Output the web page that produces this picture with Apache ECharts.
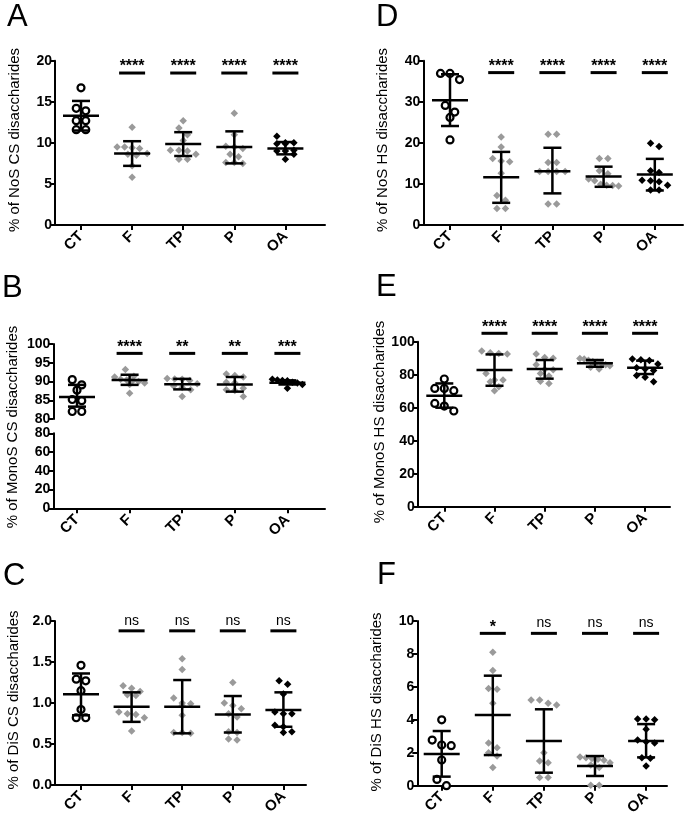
<!DOCTYPE html>
<html><head><meta charset="utf-8">
<script src="https://cdn.jsdelivr.net/npm/echarts@6/dist/echarts.min.js"></script>
<style>html,body{margin:0;padding:0;background:#fff}#c{width:685px;height:816px}</style>
</head><body><div id="c"></div><script>
const categories = ['CT', 'F', 'TP', 'P', 'OA'];

// ---- Panel A: % of NoS CS disaccharides
const A_CT = [16.7, 14.2, 13.9, 12.7, 12.7, 11.6, 11.6];
const A_F  = [11.9, 9.5, 9.4, 9.3, 9.5, 8.7, 8.6, 8.5, 7.2, 5.8];
const A_TP = [12.7, 11.8, 11.0, 10.3, 9.1, 9.1, 9.0, 8.6, 8.0, 8.0];
const A_P  = [13.6, 11.0, 9.6, 9.5, 9.3, 8.6, 8.3, 7.6, 7.6, 7.5];
const A_OA = [10.8, 10.0, 9.9, 9.9, 10.0, 9.1, 9.0, 9.0, 8.6, 8.0];
const A_mean = [13.3, 8.7, 9.86, 9.5, 9.3];
const A_hi   = [15.1, 10.2, 11.3, 11.4, 10.1];
const A_lo   = [11.5, 7.2, 8.4, 7.5, 8.6];
const A_sig  = ['****', '****', '****', '****'];
const A_sigY = 18.5;
const A_ticks = [0, 5, 10, 15, 20];

// ---- Panel D: % of NoS HS disaccharides
const D_CT = [36.9, 36.9, 35.4, 29.1, 27.5, 26.2, 20.7];
const D_F  = [21.4, 19.0, 16.2, 15.6, 15.4, 12.6, 7.2, 6.0, 4.0, 4.0];
const D_TP = [22.1, 22.1, 15.2, 15.2, 13.0, 13.0, 13.0, 13.0, 5.1, 5.1];
const D_P  = [16.2, 16.2, 13.2, 12.5, 11.2, 10.8, 9.9, 9.7, 9.6, 9.5];
const D_OA = [19.9, 19.1, 13.2, 12.8, 10.9, 10.8, 10.5, 9.7, 8.5, 8.5];
const D_mean = [30.4, 11.6, 13.1, 11.8, 12.3];
const D_hi   = [36.7, 17.8, 18.8, 14.2, 16.1];
const D_lo   = [24.1, 5.4, 7.7, 9.3, 8.4];
const D_sig  = ['****', '****', '****', '****'];
const D_sigY = 37.1;
const D_ticks = [0, 10, 20, 30, 40];

// ---- Panel B: % of MonoS CS disaccharides (broken axis)
const B_CT = [90.5, 89.1, 87.7, 85.2, 84.9, 82.0, 82.0];
const B_F  = [93.2, 91.4, 91.2, 90.6, 90.4, 90.2, 90.0, 89.6, 89.2, 86.9];
const B_TP = [90.8, 90.7, 90.6, 90.3, 89.4, 88.8, 88.4, 87.8, 86.0];
const B_P  = [92.0, 91.6, 91.2, 89.8, 89.7, 88.2, 87.8, 87.6, 86.0];
const B_OA = [90.6, 90.4, 90.3, 90.2, 89.8, 89.6, 89.2, 88.2];
const B_mean = [85.9, 90.4, 89.3, 89.2, 89.7];
const B_hi   = [89.1, 91.8, 90.7, 91.2, 90.3];
const B_lo   = [83.3, 89.1, 87.9, 87.3, 89.2];
const B_sig  = ['****', '**', '**', '***'];
const B_sigY = 97.5;
const B_ticksUpper = [80, 85, 90, 95, 100];
const B_ticksLower = [0, 20, 40, 60, 80];

// ---- Panel E: % of MonoS HS disaccharides
const E_CT = [77.4, 71.7, 71.7, 70.3, 62.6, 61.0, 58.0];
const E_F  = [94.3, 93.3, 92.9, 92.5, 80.8, 76.8, 76.8, 75.8, 72.7, 70.3];
const E_TP = [92.5, 90.5, 89.9, 86.0, 83.2, 83.0, 80.8, 79.2, 76.0, 74.7];
const E_P  = [89.8, 89.5, 88.8, 88.0, 87.5, 86.9, 86.0, 85.5, 84.5, 83.5];
const E_OA = [89.5, 89.0, 88.6, 86.5, 84.2, 83.5, 82.5, 79.5, 78.4, 75.8];
const E_mean = [67.3, 82.8, 83.4, 86.9, 84.2];
const E_hi   = [74.7, 92.3, 88.9, 88.9, 88.5];
const E_lo   = [60.0, 73.3, 77.6, 84.8, 80.4];
const E_sig  = ['****', '****', '****', '****'];
const E_sigY = 105.1;
const E_ticks = [0, 20, 40, 60, 80, 100];

// ---- Panel C: % of DiS CS disaccharides
const C_CT = [1.46, 1.29, 1.27, 1.15, 0.92, 0.82, 0.82];
const C_F  = [1.21, 1.18, 1.14, 1.10, 1.09, 0.89, 0.87, 0.86, 0.82, 0.66];
const C_TP = [1.54, 1.41, 1.06, 1.0, 0.99, 0.97, 0.85, 0.64, 0.64, 0.63];
const C_P  = [1.25, 1.0, 0.97, 0.93, 0.87, 0.83, 0.65, 0.64, 0.56, 0.55];
const C_OA = [1.27, 1.23, 1.11, 0.89, 0.87, 0.87, 0.73, 0.71, 0.65, 0.64];
const C_mean = [1.106, 0.955, 0.955, 0.86, 0.915];
const C_hi   = [1.36, 1.13, 1.28, 1.085, 1.13];
const C_lo   = [0.85, 0.77, 0.63, 0.64, 0.71];
const C_sig  = ['ns', 'ns', 'ns', 'ns'];
const C_sigY = 1.88;
const C_ticks = [0, 0.5, 1.0, 1.5, 2.0];

// ---- Panel F: % of DiS HS disaccharides
const F_CT = [4.0, 2.77, 2.47, 2.43, 1.56, 0.38, 0.0];
const F_F  = [8.1, 7.0, 5.9, 5.85, 5.0, 2.6, 2.3, 2.0, 1.8, 1.1];
const F_TP = [5.2, 5.2, 5.0, 4.9, 2.0, 1.5, 1.4, 0.5, 0.5];
const F_P  = [1.75, 1.7, 1.65, 1.6, 1.55, 1.4, 1.25, 1.1, 0.02, 0.02];
const F_OA = [4.05, 4.05, 4.0, 3.42, 2.77, 2.67, 2.6, 1.7, 1.66, 1.19];
const F_mean = [1.92, 4.29, 2.71, 1.19, 2.71];
const F_hi   = [3.32, 6.68, 4.64, 1.8, 3.74];
const F_lo   = [0.55, 1.86, 0.79, 0.59, 1.72];
const F_sig  = ['*', 'ns', 'ns', 'ns'];
const F_sigY = 9.25;
const F_ticks = [0, 2, 4, 6, 8, 10];

// ================= layout =================
const FONT = '"Liberation Sans", Arial, Helvetica, sans-serif';
const GRAY = '#9a9a9a';

const panels = [
  { letter: 'A', title: '% of NoS CS disaccharides', letterPos: [7, 2], titlePos: [15, 140],
    left: 55, right: 325, ct: 81, sp: 51.1,
    grids: [{ top: 60.7, bottom: 225, ticks: A_ticks, showX: true }],
    groups: [A_CT, A_F, A_TP, A_P, A_OA], mean: A_mean, hi: A_hi, lo: A_lo, sig: A_sig, sigY: A_sigY, dec: 0 },
  { letter: 'D', title: '% of NoS HS disaccharides', letterPos: [376, 2], titlePos: [383, 140],
    left: 423.3, right: 683, ct: 450, sp: 51.2,
    grids: [{ top: 60.7, bottom: 225, ticks: D_ticks, showX: true }],
    groups: [D_CT, D_F, D_TP, D_P, D_OA], mean: D_mean, hi: D_hi, lo: D_lo, sig: D_sig, sigY: D_sigY, dec: 0 },
  { letter: 'B', title: '% of MonoS CS disaccharides', letterPos: [2, 273], titlePos: [13, 427],
    left: 53.3, right: 325, ct: 77, sp: 52.6,
    grids: [{ top: 344, bottom: 419, ticks: B_ticksUpper, showX: false },
            { top: 433.3, bottom: 508.3, ticks: B_ticksLower, showX: true }],
    groups: [B_CT, B_F, B_TP, B_P, B_OA], mean: B_mean, hi: B_hi, lo: B_lo, sig: B_sig, sigY: B_sigY, dec: 0 },
  { letter: 'E', title: '% of MonoS HS disaccharides', letterPos: [376, 272], titlePos: [380, 422],
    left: 417.7, right: 670, ct: 444.3, sp: 50.2,
    grids: [{ top: 341.7, bottom: 506.7, ticks: E_ticks, showX: true }],
    groups: [E_CT, E_F, E_TP, E_P, E_OA], mean: E_mean, hi: E_hi, lo: E_lo, sig: E_sig, sigY: E_sigY, dec: 0 },
  { letter: 'C', title: '% of DiS CS disaccharides', letterPos: [3, 561], titlePos: [14, 700],
    left: 55, right: 306, ct: 81, sp: 50.6,
    grids: [{ top: 621, bottom: 785, ticks: C_ticks, showX: true }],
    groups: [C_CT, C_F, C_TP, C_P, C_OA], mean: C_mean, hi: C_hi, lo: C_lo, sig: C_sig, sigY: C_sigY, dec: 1 },
  { letter: 'F', title: '% of DiS HS disaccharides', letterPos: [377, 560], titlePos: [377, 702],
    left: 417.3, right: 667, ct: 441.7, sp: 51.1,
    grids: [{ top: 621, bottom: 785.7, ticks: F_ticks, showX: true }],
    groups: [F_CT, F_F, F_TP, F_P, F_OA], mean: F_mean, hi: F_hi, lo: F_lo, sig: F_sig, sigY: F_sigY, dec: 0 }
];

// row-based dot-plot layout (horizontal offsets in px), width limited
function dotRows(vals, pxPerY, d, maxHalf) {
  const order = vals.map((v, i) => i).sort((a, b) => vals[b] - vals[a]);
  const off = new Array(vals.length).fill(0);
  let row = [];
  const flush = () => {
    const n = row.length;
    const spc = n > 1 ? Math.min(d, 2 * maxHalf / (n - 1)) : 0;
    row.forEach((idx, j) => { off[idx] = (j - (n - 1) / 2) * spc; });
    row = [];
  };
  order.forEach(i => {
    if (row.length && (vals[row[0]] - vals[i]) * pxPerY > d * 0.85) flush();
    row.push(i);
  });
  flush();
  return off;
}

const grid = [], xAxis = [], yAxis = [], series = [], graphic = [];
const axisColor = '#000';

panels.forEach(pn => {
  const width = pn.right - pn.left;
  const xMin = 1 - (pn.ct - pn.left) / pn.sp;
  const xMax = xMin + width / pn.sp;
  const gIdx = [];
  pn.grids.forEach(g => {
    const idx = grid.length;
    gIdx.push(idx);
    grid.push({ left: pn.left, top: g.top, width: width, height: g.bottom - g.top, outerBoundsMode: 'none', containLabel: false });
    xAxis.push({
      type: 'value', gridIndex: idx, min: xMin, max: xMax, show: g.showX,
      splitLine: { show: false },
      axisLine: { show: g.showX, onZero: false, lineStyle: { color: axisColor, width: 2 } },
      axisTick: { show: g.showX, customValues: [1, 2, 3, 4, 5], length: 5, lineStyle: { color: axisColor, width: 2 } },
      axisLabel: { show: g.showX, customValues: [1, 2, 3, 4, 5], rotate: 45, margin: 9,
        formatter: v => categories[Math.round(v) - 1] || '',
        color: '#000', fontWeight: 'bold', fontSize: 15, fontFamily: FONT }
    });
    const t = g.ticks;
    yAxis.push({
      type: 'value', gridIndex: idx, min: t[0], max: t[t.length - 1], interval: t[1] - t[0],
      splitLine: { show: false },
      axisLine: { show: true, onZero: false, lineStyle: { color: axisColor, width: 2 } },
      axisTick: { show: true, length: 5, lineStyle: { color: axisColor, width: 2 } },
      axisLabel: { color: '#000', fontWeight: 'bold', fontSize: 14, fontFamily: FONT, margin: 3,
        formatter: v => v.toFixed(pn.dec) }
    });
    g._h = g.bottom - g.top; g._range = t[t.length - 1] - t[0];
  });
  const g0 = pn.grids[0];
  const pxPerY = g0._h / g0._range;
  const ai = gIdx[0];
  // points
  pn.groups.forEach((vals, gi) => {
    const isCT = gi === 0;
    const d = isCT ? 9.5 : 8.5;
    const off = dotRows(vals, pxPerY, d, isCT ? 13 : 15);
    const data = vals.map((v, i) => [gi + 1 + off[i] / pn.sp, v]);
    series.push({
      type: 'scatter', xAxisIndex: ai, yAxisIndex: ai, data, z: 2, silent: true,
      symbol: isCT ? 'circle' : 'diamond',
      symbolSize: isCT ? 7 : 7.5,
      itemStyle: isCT ? { color: '#fff', borderColor: '#000', borderWidth: 2.2, opacity: 1 }
                      : { color: gi === 4 ? '#000' : GRAY, opacity: 1 }
    });
  });
  // mean ± SD
  series.push({
    type: 'custom', xAxisIndex: ai, yAxisIndex: ai, z: 5, clip: false, silent: true,
    data: pn.mean.map((m, i) => [i + 1, m, pn.lo[i], pn.hi[i]]),
    renderItem: (params, api) => {
      const x = api.value(0);
      const pm = api.coord([x, api.value(1)]);
      const pl = api.coord([x, api.value(2)]);
      const ph = api.coord([x, api.value(3)]);
      const st = { stroke: '#000', lineWidth: 2.5 };
      return { type: 'group', children: [
        { type: 'line', shape: { x1: pm[0] - 18, y1: pm[1], x2: pm[0] + 18, y2: pm[1] }, style: st },
        { type: 'line', shape: { x1: ph[0], y1: ph[1], x2: pl[0], y2: pl[1] }, style: st },
        { type: 'line', shape: { x1: ph[0] - 9, y1: ph[1], x2: ph[0] + 9, y2: ph[1] }, style: st },
        { type: 'line', shape: { x1: pl[0] - 9, y1: pl[1], x2: pl[0] + 9, y2: pl[1] }, style: st }
      ] };
    }
  });
  // significance bars
  series.push({
    type: 'custom', xAxisIndex: ai, yAxisIndex: ai, z: 5, clip: false, silent: true,
    data: pn.sig.map((s, i) => [i + 2, pn.sigY]),
    renderItem: (params, api) => {
      const p = api.coord([api.value(0), api.value(1)]);
      const lab = pn.sig[params.dataIndex];
      const isNs = lab === 'ns';
      return { type: 'group', children: [
        { type: 'line', shape: { x1: p[0] - 13, y1: p[1], x2: p[0] + 13, y2: p[1] }, style: { stroke: '#000', lineWidth: 3 } },
        { type: 'text', x: p[0], y: p[1] + (isNs ? -10 : -6),
          style: { text: lab, fill: '#000', font: (isNs ? '14px ' : 'bold 16px ') + FONT,
                   align: 'center', verticalAlign: 'middle', textAlign: 'center', textVerticalAlign: 'middle' } }
      ] };
    }
  });
  // letter & y title
  graphic.push({ type: 'text', left: pn.letterPos[0], top: pn.letterPos[1],
    style: { text: pn.letter, fill: '#000', font: '31px ' + FONT } });
  graphic.push({ type: 'text', x: pn.titlePos[0], y: pn.titlePos[1], rotation: Math.PI / 2,
    style: { text: pn.title, fill: '#000', font: '15px ' + FONT, align: 'center', verticalAlign: 'middle',
             textAlign: 'center', textVerticalAlign: 'middle' } });
});

const chart = echarts.init(document.getElementById('c'), null, { renderer: 'canvas' });
chart.setOption({ animation: false, backgroundColor: '#fff', grid, xAxis, yAxis, series, graphic });
</script></body></html>
